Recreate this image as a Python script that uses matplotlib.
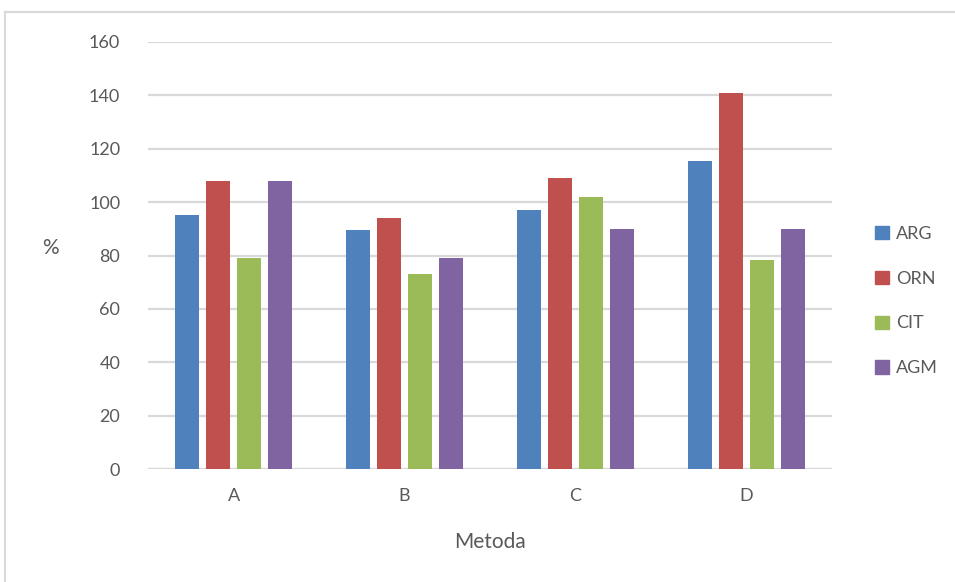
import matplotlib
matplotlib.use("Agg")
import matplotlib.pyplot as plt
from matplotlib.lines import Line2D
import numpy as np

plt.rcParams['font.family'] = ['Lato', 'DejaVu Sans']

methods = ["A", "B", "C", "D"]
series = ["ARG", "ORN", "CIT", "AGM"]
arg = [95, 89.5, 97, 115.5]
orn = [108, 94, 109, 141]
cit = [79, 73, 102, 78.5]
agm = [108, 79, 90, 90]
colors = ["#4F81BD", "#C0504D", "#9BBB59", "#8064A2"]
yticks = [0, 20, 40, 60, 80, 100, 120, 140, 160]

fig = plt.figure(figsize=(9.55, 5.82), dpi=100)
ax = fig.add_axes([148/955, 113/582, 684/955, 427/582])

x = np.arange(len(methods))
slot = 0.181
width = 0.142
for i, (vals, col) in enumerate(zip([arg, orn, cit, agm], colors)):
    ax.bar(x + (i - 1.5) * slot, vals, width=width, color=col, label=series[i], zorder=3)

ax.set_xlim(-0.5, 3.5)
ax.set_ylim(0, 160)
ax.set_yticks(yticks)
ax.set_xticks(x)
ax.set_xticklabels(methods)
ax.grid(axis='y', color='#d9d9d9', linewidth=1.6, zorder=0)
for s in ax.spines.values():
    s.set_visible(False)
ax.axhline(0, color='#d9d9d9', linewidth=1.6, zorder=1)
ax.tick_params(length=0, labelsize=13, colors='#595959')
ax.tick_params(axis='y', pad=20)
ax.tick_params(axis='x', pad=14)

ax.set_xlabel("Metoda", fontsize=15, color='#595959', labelpad=20)
fig.text(50/955, 1 - 248/582, "%", fontsize=15, color='#595959', ha='center', va='center')

handles = [plt.Rectangle((0, 0), 1, 1, color=c) for c in colors]
leg = fig.legend(handles, series, loc='center left', bbox_to_anchor=(859/955, 1 - 301/582),
                 frameon=False, fontsize=13, handlelength=0.75, handleheight=0.75,
                 handletextpad=0.4, labelspacing=1.6, labelcolor='#595959')

# chart frame
fig.add_artist(Line2D([5/955, 5/955], [0, 1 - 12/582], color='#d9d9d9', linewidth=1.5))
fig.add_artist(Line2D([5/955, 1], [1 - 12/582, 1 - 12/582], color='#d9d9d9', linewidth=1.5))

fig.savefig("out.png", dpi=100)
